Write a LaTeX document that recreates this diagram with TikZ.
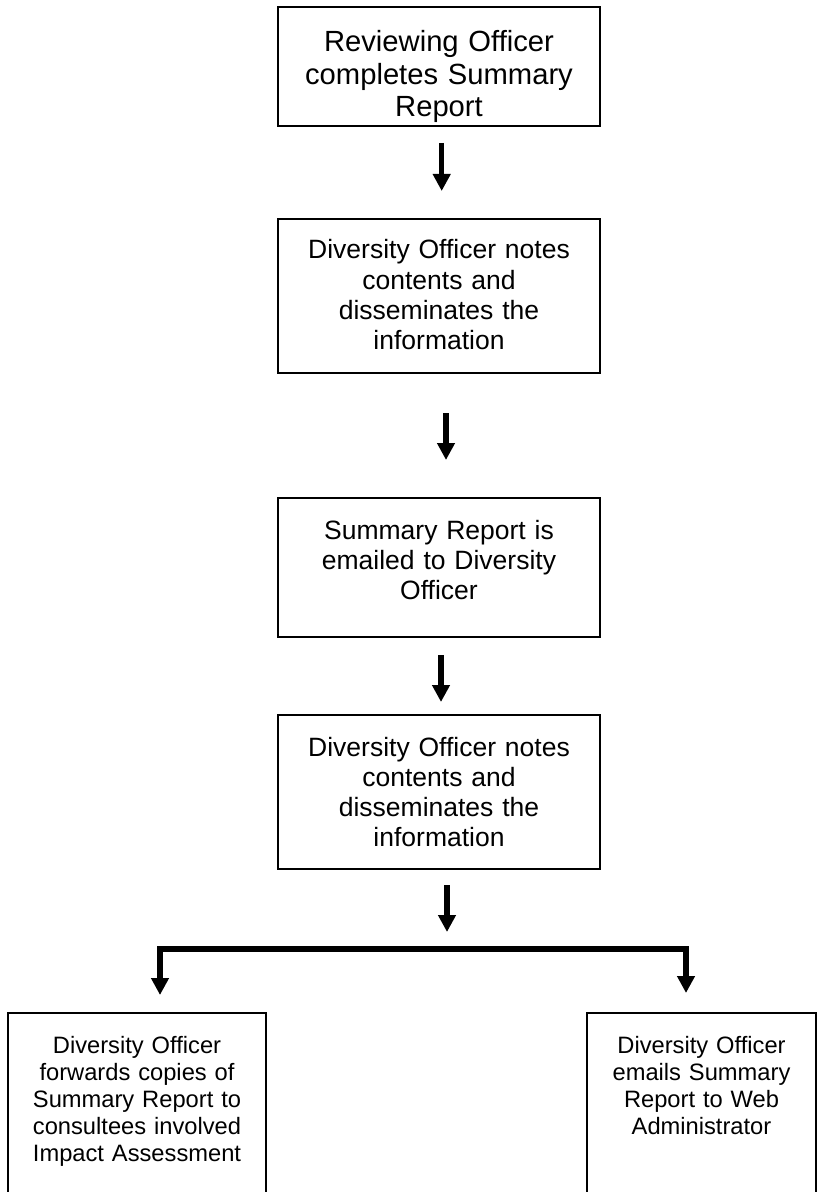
\documentclass[tikz,border=0pt]{standalone}
\usepackage{fontspec}
\setmainfont{Liberation Sans}
\usetikzlibrary{arrows.meta, positioning}

\begin{document}
\begin{tikzpicture}[
    x=0.5pt, y=-0.5pt,
    >={Triangle[width=8.5pt, length=8.5pt]},
    box/.style={rectangle, draw, line width=1.4pt, align=center, inner sep=0pt, outer sep=0pt, text width=161pt, anchor=north, font=\fontsize{13.25}{15.1}\selectfont},
    topbox/.style={box, font=\fontsize{14.6}{16.25}\selectfont},
    lowbox/.style={box, font=\fontsize{11.85}{13.6}\selectfont, text height=20pt, text depth=71.5pt},
    arrow/.style={->, line width=2.65pt},
    fork/.style={line width=2.65pt, line cap=rect}
]
\useasboundingbox (0,0) rectangle (818,1192);

% =====================
% Main column
% =====================
\node[topbox, text height=22.5pt, text depth=37pt] (report) at (439,7) {Reviewing Officer\\completes Summary\\Report};
\node[box, text height=20pt, text depth=57pt, below=46.5pt of report] (notes1) {Diversity Officer notes\\contents and\\disseminates the\\information};
\node[box, text height=20.5pt, text depth=49pt, below=62.5pt of notes1] (emailed) {Summary Report is\\emailed to Diversity\\Officer};
\node[box, text height=20.5pt, text depth=56.5pt, below=39pt of emailed] (notes2) {Diversity Officer notes\\contents and\\disseminates the\\information};

% =====================
% Bottom row
% =====================
\node[lowbox, text width=129pt] (forward) at (137,1013) {Diversity Officer\\forwards copies of\\Summary Report to\\consultees involved\\Impact Assessment};
\node[lowbox, text width=114.5pt] (webadmin) at (701.5,1013) {Diversity Officer\\emails Summary\\Report to Web\\Administrator};

% =====================
% Arrows
% =====================
\draw[arrow, shorten <=8.5pt, shorten >=14pt] ([xshift=1.35pt]report.south) -- ([xshift=1.35pt]notes1.north);
\draw[arrow, shorten <=20pt, shorten >=19pt] ([xshift=3.5pt]notes1.south) -- ([xshift=3.5pt]emailed.north);
\draw[arrow, shorten <=9pt, shorten >=6.5pt] ([xshift=1pt]emailed.south) -- ([xshift=1pt]notes2.north);

\coordinate (forkl) at (160,949);
\coordinate (forkr) at (686,949);
\draw[arrow, shorten <=8pt, shorten >=8.5pt] ([xshift=4pt]notes2.south) -- ([xshift=4pt]notes2.south |- forkl);
\draw[fork] (forkl) -- (forkr);
\draw[arrow, shorten >=9pt] (forkl) -- (forkl |- forward.north);
\draw[arrow, shorten >=10pt] (forkr) -- (forkr |- webadmin.north);

\end{tikzpicture}
\end{document}
